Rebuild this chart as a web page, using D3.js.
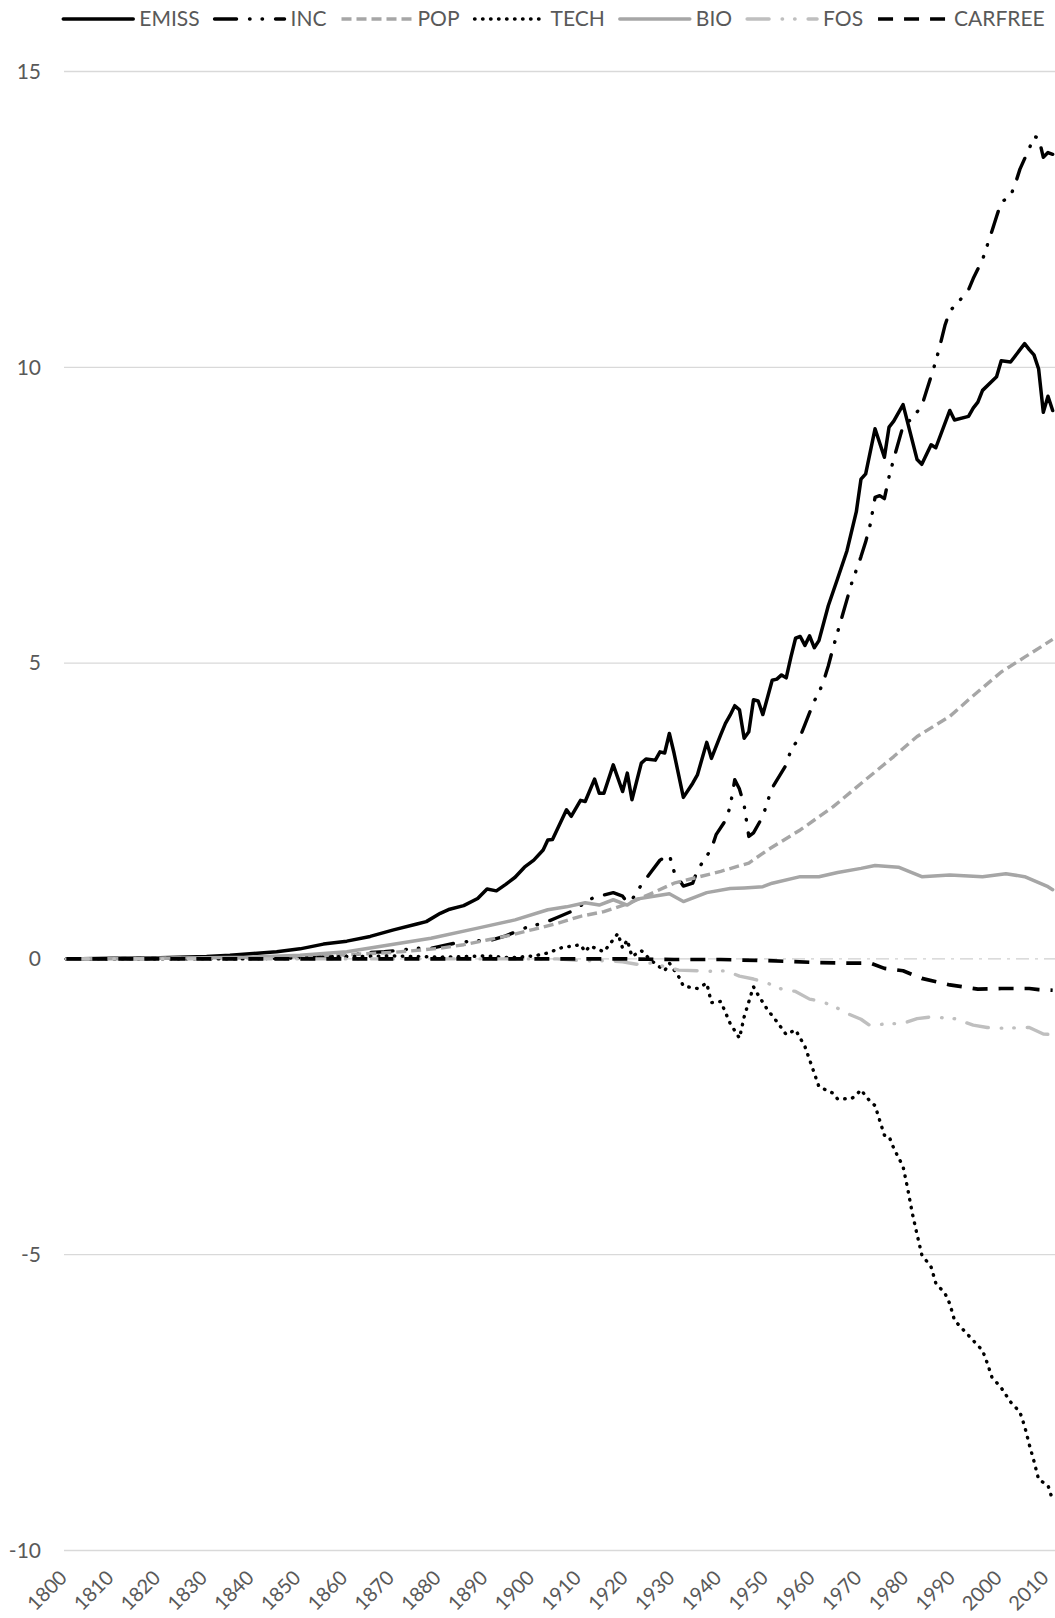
<!DOCTYPE html>
<html lang="en">
<head>
<meta charset="utf-8">
<script src="https://cdn.jsdelivr.net/npm/d3@7/dist/d3.min.js"></script>
<style>
  body { margin: 0; background: #fff; }
  svg text { font-family: Lato, "Open Sans", sans-serif; fill: #595959; }
</style>
</head>
<body>
<script>
// values, [year, value]
var emiss = [[1800,0],[1810,0.01],[1820,0.02],[1830,0.04],[1835,0.06],[1840,0.09],[1845,0.12],[1850,0.17],
  [1855,0.25],[1860,0.30],[1865,0.38],[1870,0.49],[1875,0.59],[1877,0.63],[1880,0.77],[1882,0.84],[1885,0.90],
  [1888,1.02],[1890,1.18],[1892,1.15],[1894,1.26],[1896,1.38],[1898,1.55],[1900,1.67],[1902,1.84],[1903,2.01],
  [1904,2.02],[1907,2.52],[1908,2.41],[1910,2.68],[1911,2.66],[1913,3.04],[1914,2.80],[1915,2.80],[1917,3.28],
  [1919,2.83],[1920,3.14],[1921,2.69],[1923,3.31],[1924,3.38],[1926,3.36],[1927,3.50],[1928,3.48],[1929,3.81],
  [1930,3.48],[1932,2.73],[1934,2.97],[1935,3.11],[1937,3.66],[1938,3.39],[1940,3.79],[1941,3.98],[1942,4.12],
  [1943,4.28],[1944,4.21],[1945,3.73],[1946,3.84],[1947,4.38],[1948,4.36],[1949,4.13],[1951,4.71],[1952,4.73],
  [1953,4.80],[1954,4.75],[1955,5.10],[1956,5.42],[1957,5.45],[1958,5.30],[1959,5.46],[1960,5.26],[1961,5.38],
  [1963,5.97],[1965,6.43],[1967,6.90],[1969,7.56],[1970,8.11],[1971,8.20],[1973,8.96],[1975,8.48],[1976,8.99],
  [1977,9.09],[1979,9.37],[1982,8.44],[1983,8.36],[1985,8.69],[1986,8.64],[1989,9.27],[1990,9.11],[1993,9.17],
  [1994,9.31],[1995,9.41],[1996,9.61],[1999,9.84],[2000,10.11],[2002,10.09],[2005,10.40],[2006,10.30],
  [2007,10.21],[2008,9.97],[2009,9.24],[2010,9.51],[2011,9.27]];

var inc = [[1800,0],[1850,0.02],[1860,0.05],[1865,0.11],[1868,0.12],[1875,0.18],[1878,0.18],[1884,0.28],
  [1887,0.30],[1891,0.32],[1894,0.39],[1899,0.55],[1902,0.60],[1905,0.70],[1908,0.80],[1911,0.95],[1913,1.05],
  [1915,1.08],[1917,1.12],[1919,1.06],[1920,0.95],[1921,1.00],[1923,1.25],[1925,1.46],[1927,1.67],[1929,1.76],
  [1930,1.48],[1932,1.23],[1934,1.28],[1935,1.50],[1938,1.86],[1939,2.10],[1941,2.34],[1942,2.57],[1943,3.03],
  [1944,2.87],[1945,2.60],[1946,2.07],[1947,2.13],[1949,2.41],[1950,2.66],[1951,2.89],[1954,3.28],[1955,3.53],
  [1957,3.76],[1958,3.96],[1960,4.36],[1961,4.50],[1962,4.70],[1963,4.95],[1964,5.25],[1966,5.80],[1968,6.35],
  [1970,6.80],[1971,7.05],[1972,7.35],[1973,7.80],[1974,7.83],[1975,7.78],[1976,8.15],[1977,8.45],[1979,9.01],
  [1981,9.14],[1983,9.35],[1984,9.60],[1986,10.10],[1987,10.40],[1988,10.72],[1989,10.95],[1991,11.12],
  [1993,11.31],[1994,11.50],[1996,11.82],[1998,12.30],[1999,12.55],[2000,12.79],[2002,12.90],[2003,13.10],
  [2004,13.35],[2006,13.70],[2007,13.90],[2008,13.88],[2009,13.55],[2010,13.63],[2011,13.60]];

var pop = [[1800,0],[1840,0.02],[1850,0.04],[1860,0.07],[1870,0.11],[1880,0.18],[1885,0.24],[1890,0.32],
  [1895,0.40],[1900,0.50],[1905,0.60],[1910,0.72],[1915,0.80],[1920,0.93],[1925,1.10],[1930,1.28],[1935,1.38],
  [1940,1.48],[1946,1.62],[1950,1.84],[1957,2.18],[1964,2.57],[1971,3.03],[1977,3.42],[1982,3.76],[1989,4.10],
  [1993,4.38],[2000,4.85],[2005,5.10],[2011,5.40]];

var tech = [[1800,0],[1840,0],[1850,0.02],[1860,0.04],[1870,0.05],[1880,0.03],[1890,0.05],[1895,0.02],
  [1900,0.05],[1903,0.10],[1906,0.19],[1910,0.24],[1911,0.12],[1912,0.22],[1915,0.12],[1918,0.43],[1919,0.18],
  [1920,0.32],[1921,0.04],[1923,0.14],[1925,-0.02],[1928,-0.20],[1929,-0.07],[1931,-0.30],[1932,-0.46],
  [1935,-0.50],[1937,-0.41],[1938,-0.74],[1940,-0.72],[1942,-1.09],[1944,-1.34],[1945,-0.98],[1947,-0.47],
  [1948,-0.61],[1950,-0.86],[1952,-1.06],[1954,-1.28],[1956,-1.20],[1958,-1.48],[1960,-1.93],[1961,-2.16],
  [1964,-2.27],[1965,-2.37],[1968,-2.36],[1969,-2.30],[1970,-2.21],[1971,-2.32],[1972,-2.41],[1973,-2.48],
  [1975,-2.98],[1976,-3.00],[1977,-3.20],[1979,-3.51],[1980,-3.89],[1981,-4.31],[1982,-4.66],[1983,-5.00],
  [1985,-5.21],[1986,-5.48],[1988,-5.66],[1989,-5.83],[1990,-6.11],[1992,-6.28],[1994,-6.45],[1996,-6.62],
  [1997,-6.83],[1998,-7.07],[2000,-7.25],[2002,-7.49],[2004,-7.66],[2005,-7.90],[2006,-8.21],[2007,-8.49],
  [2008,-8.80],[2010,-8.90],[2011,-9.15]];

var bio = [[1800,0],[1820,0.01],[1840,0.03],[1850,0.06],[1860,0.12],[1867,0.21],[1878,0.35],[1888,0.52],
  [1896,0.66],[1903,0.83],[1907,0.88],[1911,0.95],[1914,0.91],[1917,1.00],[1920,0.91],[1922,1.01],[1925,1.05],
  [1929,1.10],[1932,0.97],[1937,1.12],[1942,1.19],[1945,1.20],[1949,1.22],[1951,1.28],[1957,1.39],[1961,1.39],
  [1965,1.46],[1970,1.53],[1973,1.58],[1978,1.55],[1983,1.39],[1989,1.42],[1996,1.39],[2001,1.44],[2005,1.39],
  [2010,1.22],[2011,1.17]];

var fos = [[1800,0],[1905,0],[1910,-0.03],[1916,-0.03],[1919,-0.05],[1922,-0.09],[1925,-0.07],[1931,-0.19],
  [1935,-0.20],[1938,-0.21],[1941,-0.20],[1944,-0.29],[1947,-0.34],[1950,-0.41],[1953,-0.51],[1956,-0.55],
  [1959,-0.68],[1961,-0.71],[1964,-0.79],[1967,-0.92],[1970,-1.02],[1972,-1.13],[1975,-1.10],[1979,-1.09],
  [1982,-1.01],[1985,-0.98],[1990,-1.01],[1994,-1.12],[1997,-1.16],[2000,-1.17],[2006,-1.16],[2009,-1.27],
  [2011,-1.28]];

var carfree = [[1800,0],[1920,0],[1930,-0.01],[1940,-0.01],[1950,-0.03],[1960,-0.06],[1967,-0.07],[1972,-0.07],
  [1975,-0.16],[1979,-0.20],[1983,-0.33],[1989,-0.44],[1995,-0.51],[2000,-0.50],[2006,-0.50],[2008,-0.52],
  [2011,-0.53]];

var yTicks = [-10, -5, 0, 5, 10, 15];
var xTicks = d3.range(1800, 2011, 10);

var series = [
  {name: "EMISS",   data: emiss,   color: "#000000", w: 3.5, dash: null,                  cap: "round"},
  {name: "INC",     data: inc,     color: "#000000", w: 3.4, dash: "22,13,0.5,12,0.5,13", cap: "round"},
  {name: "POP",     data: pop,     color: "#a6a6a6", w: 3.4, dash: "10,5",                cap: "butt"},
  {name: "TECH",    data: tech,    color: "#000000", w: 3.4, dash: "0.5,7.5",             cap: "round"},
  {name: "BIO",     data: bio,     color: "#a6a6a6", w: 3.5, dash: null,                  cap: "round"},
  {name: "FOS",     data: fos,     color: "#bfbfbf", w: 3.4, dash: "22,13,0.5,12,0.5,13", cap: "round"},
  {name: "CARFREE", data: carfree, color: "#000000", w: 3.7, dash: "15,11",               cap: "butt"}
];

var W = 1055, H = 1618;
var svg = d3.select("body").append("svg").attr("width", W).attr("height", H);

var x = d3.scaleLinear().domain([1799.5, 2011.5]).range([64, 1055]);
var y = d3.scaleLinear().domain([-10, 15]).range([1550.5, 71.5]);

// gridlines
svg.append("g").selectAll("line").data(yTicks).enter().append("line")
  .attr("x1", x.range()[0]).attr("x2", x.range()[1])
  .attr("y1", function(d) { return y(d); }).attr("y2", function(d) { return y(d); })
  .attr("stroke", function(d) { return d === 0 ? "#cfcfcf" : "#d9d9d9"; })
  .attr("stroke-width", 1.3)
  .attr("stroke-dasharray", function(d) { return d === 0 ? "13,6,3,6" : null; });

// y labels
svg.append("g").selectAll("text").data(yTicks).enter().append("text")
  .attr("x", 41).attr("y", function(d) { return y(d); })
  .attr("dy", "0.35em").attr("text-anchor", "end")
  .style("font-size", "21px")
  .text(function(d) { return d; });

// x labels, rotated
svg.append("g").selectAll("text").data(xTicks).enter().append("text")
  .attr("transform", function(d) { return "translate(" + (x(d) - 3) + ",1574) rotate(-45)"; })
  .attr("dy", "0.35em").attr("text-anchor", "end")
  .style("font-size", "20px")
  .text(function(d) { return d; });

var line = d3.line()
  .x(function(d) { return x(d[0]); })
  .y(function(d) { return y(d[1]); });

svg.append("g").selectAll("path").data(series).enter().append("path")
  .attr("d", function(s) { return line(s.data); })
  .attr("fill", "none")
  .attr("stroke", function(s) { return s.color; })
  .attr("stroke-width", function(s) { return s.w; })
  .attr("stroke-dasharray", function(s) { return s.dash; })
  .attr("stroke-linecap", function(s) { return s.cap; })
  .attr("stroke-linejoin", "round");

// legend
var leg = svg.append("g");
var lx = 0;
series.forEach(function(s) {
  var g = leg.append("g").attr("transform", "translate(" + lx + ",0)");
  g.append("line").attr("x1", 0).attr("x2", 70).attr("y1", 0).attr("y2", 0)
    .attr("stroke", s.color).attr("stroke-width", s.w)
    .attr("stroke-dasharray", s.dash).attr("stroke-linecap", s.cap);
  var t = g.append("text").attr("x", 76).attr("dy", "0.35em")
    .style("font-size", "21px").text(s.name);
  lx += 76 + t.node().getComputedTextLength() + 15;
});
var legW = lx - 15;
leg.attr("transform", "translate(" + (554 - legW / 2) + ",19)");
</script>
</body>
</html>
